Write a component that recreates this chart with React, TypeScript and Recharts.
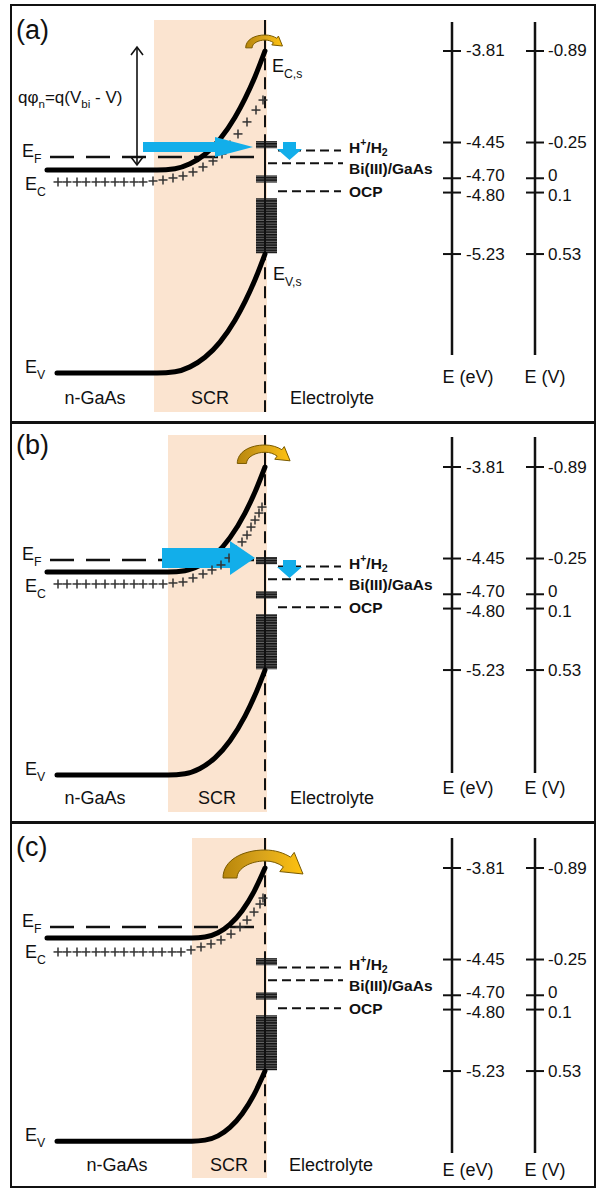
import React from 'react'
import { ComposedChart, Line, Scatter, XAxis, YAxis, ReferenceArea, ReferenceLine } from 'recharts'

const FONT = '"Liberation Sans", Arial, Helvetica, sans-serif'

// energy axes (right side of every panel)
const eVTicks = [-3.81, -4.45, -4.7, -4.8, -5.23]
const eVLabels = ['-3.81', '-4.45', '-4.70', '-4.80', '-5.23']
const vLabels = ['-0.89', '-0.25', '0', '0.1', '0.53']

// redox levels drawn in the electrolyte (eV), with label baselines
const redoxNames = ['H^{+}/H_{2}', 'Bi(III)/GaAs', 'OCP']
const redoxLevels = [-4.505, -4.595, -4.79]
const redoxLabelE = [-4.52, -4.668, -4.83]
const redoxStart = [278, 268, 278]
const redoxEnd = [341, 343, 341]

// surface states at the interface (eV ranges)
const surfaceStates = [[-4.44, -4.49], [-4.68, -4.73], [-4.84, -5.225]]

const regionNames = ['n-GaAs', 'SCR', 'Electrolyte']

// (a) conduction / valence band, x = depth (px-like units), e = energy (eV)
const ecA = [[47, -4.642], [157, -4.642], [175, -4.633], [190, -4.599], [205, -4.532], [220, -4.426], [235, -4.273], [245, -4.143], [255, -3.99], [265, -3.81]]
const evA = [[57, -6.062], [157, -6.062], [175, -6.053], [190, -6.019], [205, -5.952], [220, -5.846], [235, -5.693], [245, -5.563], [255, -5.41], [265, -5.23]]
const plusA = [[58, -4.726], [67, -4.726], [77, -4.726], [86, -4.726], [96, -4.726], [105, -4.726], [115, -4.726], [124, -4.726], [134, -4.726], [143, -4.726], [153, -4.719], [163, -4.712], [173, -4.698], [183, -4.684], [193, -4.656], [203, -4.621], [213, -4.579], [222, -4.53], [230, -4.467], [238, -4.39], [247, -4.306], [256, -4.223], [263, -4.153]]

// (b)
const ecB = [[47, -4.544], [168, -4.544], [185, -4.535], [200, -4.498], [215, -4.424], [230, -4.304], [245, -4.132], [255, -3.985], [265, -3.81]]
const evB = [[57, -5.964], [168, -5.964], [185, -5.955], [200, -5.918], [215, -5.844], [230, -5.724], [245, -5.552], [255, -5.405], [265, -5.23]]
const plusB = [[58, -4.628], [67, -4.628], [77, -4.628], [86, -4.628], [96, -4.628], [105, -4.628], [115, -4.628], [124, -4.628], [134, -4.628], [143, -4.628], [153, -4.628], [163, -4.628], [173, -4.621], [183, -4.614], [193, -4.586], [203, -4.558], [212, -4.53], [221, -4.495], [229, -4.446], [236, -4.39], [242, -4.334], [247, -4.286], [251, -4.23], [255, -4.181], [259, -4.132], [262, -4.09]]

// (c)
const ecC = [[47, -4.3], [192, -4.3], [205, -4.293], [218, -4.263], [230, -4.204], [242, -4.11], [254, -3.975], [265, -3.81]]
const evC = [[57, -5.72], [192, -5.72], [205, -5.713], [218, -5.683], [230, -5.624], [242, -5.53], [254, -5.395], [265, -5.23]]
const plusC = [[58, -4.397], [67, -4.397], [77, -4.397], [86, -4.397], [96, -4.397], [105, -4.397], [115, -4.397], [124, -4.397], [134, -4.397], [143, -4.397], [153, -4.397], [162, -4.397], [172, -4.397], [181, -4.397], [191, -4.383], [201, -4.362], [211, -4.341], [221, -4.313], [231, -4.272], [240, -4.223], [247, -4.174], [254, -4.118], [260, -4.062], [263, -4.02]]

// small vertical nudges (px) so the close tick labels don't collide, as in the figure
const tickLabelNudge = [0, 0, -3, 3, 0]

type Pt = { x: number; e: number }
const pts = (a: number[][]): Pt[] => a.map(([x, e]) => ({ x, e }))

interface PanelCfg {
  name: string
  top: number
  height: number
  eMax: number
  eMin: number
  scrX: [number, number]
  scrE: [number, number]
  ec: number[][]
  ev: number[][]
  plus: number[][]
  ef: number
  stateTop: number
  gold: { e: number; s: number }
  arrow?: { shaft: [number, number]; e: number; tip: number; len: number; half: number; width: number; down: number }
  labels: { x: number; e: number; t: string; size?: number; mid?: boolean }[]
  regionX: number[]
  regionE: number
  axisE: [number, number]
  axisTitleE: number
}

const panels: PanelCfg[] = [
  {
    name: 'a', top: 0, height: 422, eMax: -3.4534, eMin: -6.4045,
    scrX: [154, 267], scrE: [-3.593, -6.334],
    ec: ecA, ev: evA, plus: plusA, ef: -4.551, stateTop: -4.43,
    gold: { e: -3.698, s: 0.46 },
    arrow: { shaft: [143, 216], e: -4.481, tip: 253, len: 38, half: 10, width: 10, down: -4.572 },
    labels: [
      { x: 16, e: -3.663, t: '(a)', size: 27, mid: true },
      { x: 22, e: -4.551, t: 'E_{F}' },
      { x: 25, e: -4.782, t: 'E_{C}' },
      { x: 25, e: -6.062, t: 'E_{V}' },
      { x: 272, e: -3.957, t: 'E_{C,s}' },
      { x: 273, e: -5.411, t: 'E_{V,s}' },
      { x: 18, e: -4.174, t: 'qφ_{n}=q(V_{bi} - V)', size: 17 },
    ],
    regionX: [95, 210, 332], regionE: -6.237,
    axisE: [-3.607, -5.936], axisTitleE: -6.09,
  },
  {
    name: 'b', top: 422, height: 400, eMax: -3.4953, eMin: -6.2925,
    scrX: [168, 267], scrE: [-3.586, -6.223],
    ec: ecB, ev: evB, plus: plusB, ef: -4.46, stateTop: -4.42,
    gold: { e: -3.656, s: 0.66 },
    arrow: { shaft: [162, 231], e: -4.446, tip: 255, len: 25, half: 17, width: 20, down: -4.586 },
    labels: [
      { x: 16, e: -3.656, t: '(b)', size: 27, mid: true },
      { x: 22, e: -4.46, t: 'E_{F}' },
      { x: 25, e: -4.684, t: 'E_{C}' },
      { x: 25, e: -5.964, t: 'E_{V}' },
    ],
    regionX: [95, 217, 332], regionE: -6.125,
    axisE: [-3.6, -5.95], axisTitleE: -6.055,
  },
  {
    name: 'c', top: 822, height: 367, eMax: -3.4883, eMin: -6.0547,
    scrX: [192, 267], scrE: [-3.6, -5.978],
    ec: ecC, ev: evC, plus: plusC, ef: -4.223, stateTop: -4.4,
    gold: { e: -3.684, s: 1 },
    labels: [
      { x: 16, e: -3.663, t: '(c)', size: 27, mid: true },
      { x: 22, e: -4.223, t: 'E_{F}' },
      { x: 25, e: -4.44, t: 'E_{C}' },
      { x: 25, e: -5.72, t: 'E_{V}' },
    ],
    regionX: [117, 229, 331], regionE: -5.887,
    axisE: [-3.6, -5.803], axisTitleE: -5.922,
  },
]

const INTERFACE = 265
const EV_AXIS_X = 452
const V_AXIS_X = 535

function Rich({ x, y, text, size = 18, anchor = 'start', weight = 'normal', mid = false, subShift = 0.32 }: any) {
  const tokens = text.split(/(_\{[^}]*\}|\^\{[^}]*\})/).filter(Boolean)
  let shift = 0
  const spans = tokens.map((t: string, i: number) => {
    let target = 0
    let content = t
    let fs = size
    if (t.startsWith('_{')) { target = size * subShift; content = t.slice(2, -1); fs = size * 0.68 }
    else if (t.startsWith('^{')) { target = -size * 0.42; content = t.slice(2, -1); fs = size * 0.68 }
    const dy = target - shift
    shift = target
    return <tspan key={i} dy={dy} fontSize={fs}>{content}</tspan>
  })
  return (
    <text x={x} y={y} textAnchor={anchor} fontFamily={FONT} fontSize={size} fontWeight={weight}
      dominantBaseline={mid ? 'central' : 'alphabetic'} fill="#111">
      {spans}
    </text>
  )
}

const goldPath = 'M -42 28 C -42 10 -22 0 0 0 C 10 0 19 3 25.6 7.2 L 29.2 2.4 L 38 24 L 14.8 21.6 L 18.4 16.8 C 13 13 7 11 0 11 C -14 11 -28 18 -28 28 Z'

const tickShape = (dx: number) => (s: any) => (
  <g>
    <line x1={s.cx - 9} x2={s.cx + 9} y1={s.cy} y2={s.cy} stroke="#111" strokeWidth={2} />
    <text x={s.cx + dx} y={s.cy + tickLabelNudge[s.payload.i]} dominantBaseline="central" fontSize={17} fontFamily={FONT} fill="#111">{s.payload.label}</text>
  </g>
)

function Panel({ p }: { p: PanelCfg }) {
  const evTickData = eVTicks.map((e, i) => ({ x: EV_AXIS_X, e, label: eVLabels[i], i }))
  const vTickData = eVTicks.map((e, i) => ({ x: V_AXIS_X, e, label: vLabels[i], i }))
  const redoxData = redoxNames.map((t, i) => ({ x: 349, e: redoxLabelE[i], t }))
  const regionData = regionNames.map((t, i) => ({ x: p.regionX[i], e: p.regionE, t }))
  const titleData = [{ x: 468, e: p.axisTitleE, t: 'E (eV)' }, { x: 545, e: p.axisTitleE, t: 'E (V)' }]

  return (
    <ComposedChart width={597} height={p.height} margin={{ top: 0, right: 0, bottom: 0, left: 0 }}>
      <XAxis type="number" dataKey="x" domain={[0, 597]} hide allowDataOverflow />
      <YAxis type="number" dataKey="e" domain={[p.eMin, p.eMax]} hide allowDataOverflow />

      {/* space charge region */}
      <ReferenceArea x1={p.scrX[0]} x2={p.scrX[1]} y1={p.scrE[1]} y2={p.scrE[0]} fill="#FBE4D0" fillOpacity={1} stroke="none" />

      {/* semiconductor / electrolyte interface */}
      <ReferenceLine segment={[{ x: INTERFACE, y: p.scrE[0] }, { x: INTERFACE, y: -3.81 }]} stroke="#111" strokeWidth={2} />
      <ReferenceLine segment={[{ x: INTERFACE, y: -3.86 }, { x: INTERFACE, y: p.scrE[1] }]} stroke="#111" strokeWidth={2} strokeDasharray="12 7" />
      <ReferenceLine segment={[{ x: INTERFACE, y: p.stateTop }, { x: INTERFACE, y: -5.23 }]} stroke="#111" strokeWidth={2} />

      {/* redox levels */}
      {redoxLevels.map((e, i) => (
        <ReferenceLine key={'r' + i} segment={[{ x: redoxStart[i], y: e }, { x: redoxEnd[i], y: e }]} stroke="#111" strokeWidth={2} strokeDasharray="9 5" />
      ))}

      {/* surface states */}
      {surfaceStates.map(([e1, e2], i) => (
        <ReferenceArea key={'s' + i} x1={256} x2={277} y1={e2} y2={e1} fill="url(#states)" fillOpacity={1} stroke="none" />
      ))}

      {/* energy scales */}
      <ReferenceLine segment={[{ x: EV_AXIS_X, y: p.axisE[0] }, { x: EV_AXIS_X, y: p.axisE[1] }]} stroke="#111" strokeWidth={2.5} />
      <ReferenceLine segment={[{ x: V_AXIS_X, y: p.axisE[0] }, { x: V_AXIS_X, y: p.axisE[1] }]} stroke="#111" strokeWidth={2.5} />
      <Scatter data={evTickData} dataKey="e" isAnimationActive={false} shape={tickShape(14)} />
      <Scatter data={vTickData} dataKey="e" isAnimationActive={false} shape={tickShape(13)} />

      {/* Fermi level */}
      <Line data={pts([[50, p.ef], [INTERFACE, p.ef]])} dataKey="e" type="linear" stroke="#111" strokeWidth={2.5} strokeDasharray="24 12" dot={false} isAnimationActive={false} />

      {/* ionised donors */}
      <Scatter data={pts(p.plus)} dataKey="e" isAnimationActive={false} shape={(s: any) => (
        <g stroke="#333" strokeWidth={1.5}>
          <line x1={s.cx - 4.5} x2={s.cx + 4.5} y1={s.cy} y2={s.cy} />
          <line x1={s.cx} x2={s.cx} y1={s.cy - 4.5} y2={s.cy + 4.5} />
        </g>
      )} />

      {/* bands */}
      <Line data={pts(p.ec)} dataKey="e" type="monotone" stroke="#000" strokeWidth={5} strokeLinecap="round" dot={false} isAnimationActive={false} />
      <Line data={pts(p.ev)} dataKey="e" type="monotone" stroke="#000" strokeWidth={5} strokeLinecap="round" dot={false} isAnimationActive={false} />

      {/* electron transfer arrows */}
      {p.arrow && (
        <Line data={pts([[p.arrow.shaft[0], p.arrow.e], [p.arrow.shaft[1], p.arrow.e]])} dataKey="e" type="linear"
          stroke="#12AEEA" strokeWidth={p.arrow.width} strokeLinecap="butt" dot={false} isAnimationActive={false} />
      )}
      {p.arrow && (
        <Scatter data={[{ x: p.arrow.tip, e: p.arrow.e, len: p.arrow.len, half: p.arrow.half }]} dataKey="e" isAnimationActive={false}
          shape={(s: any) => (
            <path d={`M ${s.cx} ${s.cy} L ${s.cx - s.payload.len} ${s.cy - s.payload.half} L ${s.cx - s.payload.len} ${s.cy + s.payload.half} Z`} fill="#12AEEA" />
          )} />
      )}
      {p.arrow && (
        <Scatter data={[{ x: 289.5, e: p.arrow.down }]} dataKey="e" isAnimationActive={false}
          shape={(s: any) => (
            <path d="M -6.5 -18 L 6.5 -18 L 6.5 -11 L 12.5 -11 L 0 0 L -12.5 -11 L -6.5 -11 Z" transform={`translate(${s.cx},${s.cy})`} fill="#12AEEA" />
          )} />
      )}

      {/* thermionic emission over the barrier */}
      <Scatter data={[{ x: INTERFACE, e: p.gold.e, s: p.gold.s }]} dataKey="e" isAnimationActive={false}
        shape={(s: any) => (
          <path d={goldPath} transform={`translate(${s.cx},${s.cy}) scale(${s.payload.s})`} fill="url(#gold)" stroke="#7a5a00" strokeWidth={1 / s.payload.s} />
        )} />

      {/* barrier height arrow, panel (a) only */}
      {p.name === 'a' && (
        <Line data={pts([[137, -3.782], [137, -4.607]])} dataKey="e" type="linear" stroke="#111" strokeWidth={1.6} isAnimationActive={false}
          dot={(d: any) => (
            <path key={'d' + d.index} d={d.index === 0 ? `M ${d.cx - 6} ${d.cy + 8} L ${d.cx} ${d.cy} L ${d.cx + 6} ${d.cy + 8}` : `M ${d.cx - 6} ${d.cy - 8} L ${d.cx} ${d.cy} L ${d.cx + 6} ${d.cy - 8}`}
              fill="none" stroke="#111" strokeWidth={1.6} />
          )} />
      )}

      {/* texts */}
      <Scatter data={p.labels} dataKey="e" isAnimationActive={false}
        shape={(s: any) => <Rich x={s.cx} y={s.cy} text={s.payload.t} size={s.payload.size ?? 18} mid={s.payload.mid} />} />
      <Scatter data={redoxData} dataKey="e" isAnimationActive={false}
        shape={(s: any) => <Rich x={s.cx} y={s.cy} text={s.payload.t} size={15.5} weight="bold" subShift={0.2} />} />
      <Scatter data={regionData} dataKey="e" isAnimationActive={false}
        shape={(s: any) => <Rich x={s.cx} y={s.cy} text={s.payload.t} size={18} anchor="middle" mid />} />
      <Scatter data={titleData} dataKey="e" isAnimationActive={false}
        shape={(s: any) => <Rich x={s.cx} y={s.cy} text={s.payload.t} size={18} anchor="middle" mid />} />
    </ComposedChart>
  )
}

export default function App() {
  return (
    <div style={{ position: 'relative', width: 597, height: 1189, background: '#fff', overflow: 'hidden' }}>
      <style>{'body{margin:0}'}</style>
      <svg width={0} height={0} style={{ position: 'absolute' }}>
        <defs>
          <pattern id="states" width={6} height={2.6} patternUnits="userSpaceOnUse">
            <rect width={6} height={2.6} fill="#666" />
            <rect width={6} height={1.5} fill="#111" />
          </pattern>
          <linearGradient id="gold" x1="0" y1="0" x2="1" y2="0">
            <stop offset="0" stopColor="#B8860B" />
            <stop offset="0.5" stopColor="#D9A41C" />
            <stop offset="1" stopColor="#FFC20E" />
          </linearGradient>
        </defs>
      </svg>
      {panels.map((p) => (
        <div key={p.name} style={{ position: 'absolute', left: 0, top: p.top }}>
          <Panel p={p} />
        </div>
      ))}
      {/* frame and panel separators */}
      <div style={{ position: 'absolute', left: 10, top: 4, width: 586, height: 1184, border: '2.5px solid #111', boxSizing: 'border-box' }} />
      <div style={{ position: 'absolute', left: 10, top: 420.5, width: 586, height: 3, background: '#111' }} />
      <div style={{ position: 'absolute', left: 10, top: 820.5, width: 586, height: 3, background: '#111' }} />
    </div>
  )
}
